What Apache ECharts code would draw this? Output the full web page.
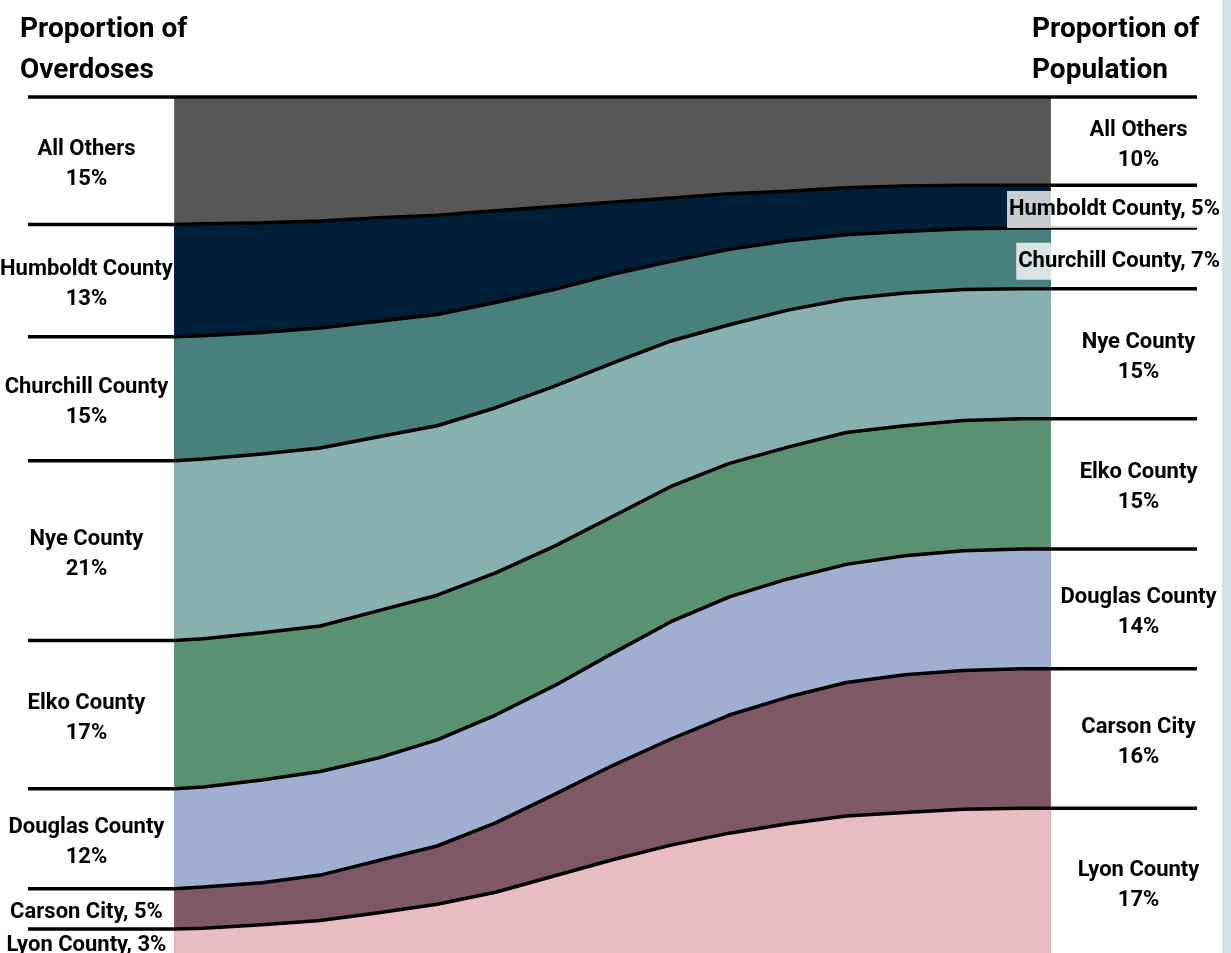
<!DOCTYPE html>
<html>
<head>
<meta charset="utf-8">
<script src="https://cdn.jsdelivr.net/npm/echarts@6/dist/echarts.min.js"></script>
<style>
  html, body { margin: 0; padding: 0; background: #ffffff; }
  #chart { width: 1231px; height: 953px; }
</style>
</head>
<body>
<div id="chart"></div>
<script>
// ---- Data ----
const counties = ['All Others', 'Humboldt County', 'Churchill County', 'Nye County',
                  'Elko County', 'Douglas County', 'Carson City', 'Lyon County'];
const overdoseLabels = [15, 13, 15, 21, 17, 12, 5, 3];     // left side (% of overdoses)
const populationLabels = [10, 5, 7, 15, 15, 14, 16, 17];   // right side (% of population)

// transition steps across the chart (left edge = 0.5, right edge = 15.5)
const steps = [0.5, 1, 2, 3, 4, 5, 6, 7, 8, 9, 10, 11, 12, 13, 14, 15, 15.5];

// share of each county (%) at each step
const allOthers = [14.9, 14.8, 14.7, 14.5, 14.1, 13.8, 13.3, 12.8, 12.3, 11.8, 11.3, 11.0, 10.6, 10.4, 10.3, 10.3, 10.3];
const humboldt  = [13.1, 13.1, 12.8, 12.5, 12.1, 11.6, 10.7, 9.7, 8.4, 7.4, 6.5, 5.8, 5.5, 5.3, 5.1, 5.0, 5.0];
const churchill = [14.5, 14.4, 14.2, 14.0, 13.5, 13.0, 12.3, 11.3, 10.4, 9.3, 8.8, 8.1, 7.5, 7.2, 7.1, 7.1, 7.1];
const nye       = [21.0, 21.0, 20.9, 20.8, 20.3, 19.8, 19.3, 18.7, 17.9, 17.0, 16.2, 16.0, 15.6, 15.5, 15.3, 15.2, 15.2];
const elko      = [17.3, 17.3, 17.2, 17.0, 17.2, 16.9, 16.6, 16.3, 16.0, 15.8, 15.6, 15.4, 15.4, 15.2, 15.2, 15.2, 15.2];
const douglas   = [11.7, 11.7, 12.0, 12.1, 12.0, 12.4, 12.6, 12.7, 13.1, 13.7, 13.8, 13.8, 13.8, 13.9, 14.0, 14.0, 14.0];
const carson    = [4.7, 4.8, 4.9, 5.3, 6.1, 6.8, 8.1, 9.5, 11.0, 12.4, 13.8, 14.8, 15.6, 16.1, 16.2, 16.3, 16.3];
const lyon      = [2.9, 3.0, 3.3, 3.9, 4.7, 5.8, 7.2, 9.0, 11.1, 12.7, 14.0, 15.2, 16.0, 16.5, 16.8, 16.9, 17.0];

const shares = [allOthers, humboldt, churchill, nye, elko, douglas, carson, lyon];
const colors = ['#575757', '#001e37', '#47807d', '#87b1b1', '#5a9173', '#a2aed1', '#7e5864', '#e9bbc2'];

// ---- build options ----
const FONT = "Roboto, 'Noto Sans', sans-serif";
const n = steps.length;
const cum = []; // top boundary of each county band
let run = new Array(n).fill(0);
shares.forEach(function (s) {
  cum.push(run.slice());
  run = run.map(function (v, k) { return v + s[k]; });
});

const series = [];
// filled bands: each fills from its top boundary down to the bottom; later ones overlay
cum.forEach(function (top, i) {
  series.push({
    type: 'line', name: counties[i], symbol: 'none', silent: true, z: 2,
    data: steps.map(function (x, k) { return [x, top[k]]; }),
    lineStyle: { width: 0 },
    areaStyle: { color: colors[i], opacity: 1, origin: 'end' }
  });
});
// boundary lines, extended flat beyond the bands
cum.forEach(function (top) {
  const d = [[-2, top[0]]].concat(steps.map(function (x, k) { return [x, top[k]]; }), [[18, top[n - 1]]]);
  series.push({
    type: 'line', symbol: 'none', silent: true, z: 5, clip: false,
    data: d, lineStyle: { color: '#000', width: 3.5 }
  });
});
// labels
const leftLbl = [], rightLbl = [];
shares.forEach(function (s, i) {
  const midL = cum[i][0] + s[0] / 2;
  const midR = cum[i][n - 1] + s[n - 1] / 2;
  leftLbl.push({
    value: [-1, midL],
    name: s[0] < 8 ? counties[i] + ', ' + overdoseLabels[i] + '%' : counties[i] + '\n' + overdoseLabels[i] + '%'
  });
  if (s[n - 1] < 8) {
    rightLbl.push({
      value: [18, midR], name: counties[i] + ', ' + populationLabels[i] + '%',
      label: { align: 'right', offset: [25, 3], backgroundColor: 'rgba(255,255,255,0.78)', padding: [4, 2, 3, 2] }
    });
  } else {
    rightLbl.push({ value: [17, midR], name: counties[i] + '\n' + populationLabels[i] + '%' });
  }
});
const lblStyle = {
  show: true, position: 'inside', formatter: function (p) { return p.name; },
  fontFamily: FONT, fontWeight: 'bold', fontSize: 22, lineHeight: 30, color: '#000', opacity: 1,
  align: 'center', verticalAlign: 'middle', offset: [0, 4]
};
series.push({ type: 'scatter', symbolSize: 0, z: 10, clip: false, silent: true, itemStyle: { opacity: 1 }, data: leftLbl, label: lblStyle });
series.push({ type: 'scatter', symbolSize: 0, z: 10, clip: false, silent: true, itemStyle: { opacity: 1 }, data: rightLbl, label: lblStyle });

const chart = echarts.init(document.getElementById('chart'), null, { renderer: 'canvas' });
chart.setOption({
  animation: false,
  backgroundColor: '#ffffff',
  grid: { left: 28, right: 34, top: 97, height: 857 },
  xAxis: { type: 'value', min: -2, max: 18, show: false },
  yAxis: { type: 'value', min: 0, max: 100, inverse: true, show: false },
  graphic: [
    { type: 'rect', right: 0, top: 0, shape: { width: 9, height: 953 }, style: { fill: '#d3e3e3' }, z: 0 },
    { type: 'text', left: 20, top: 9, style: { text: 'Proportion of\nOverdoses', font: 'bold 28px ' + FONT, lineHeight: 41, fill: '#000' }, z: 20 },
    { type: 'text', left: 1032, top: 9, style: { text: 'Proportion of\nPopulation', font: 'bold 28px ' + FONT, lineHeight: 41, fill: '#000' }, z: 20 }
  ],
  series: series
});
</script>
</body>
</html>
